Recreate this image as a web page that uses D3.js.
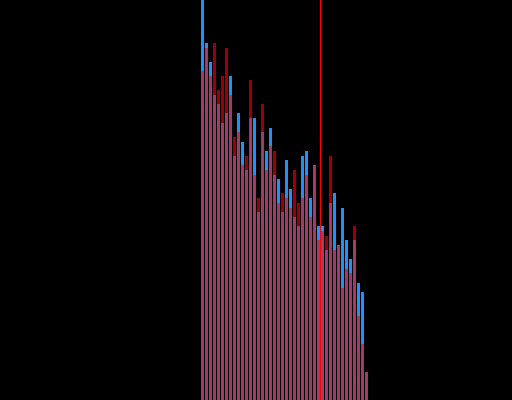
<!DOCTYPE html>
<html>
<head>
<meta charset="utf-8">
<script src="https://cdn.jsdelivr.net/npm/d3@7"></script>
<style>
  html, body { margin: 0; padding: 0; background: #000; }
  svg { display: block; }
</style>
</head>
<body>
<script>
// Bin indices (categories)
const bins = d3.range(42);
// Series A (blue) counts per bin
const seriesBlue = [400,357,338,305,296,277,287,324,244,287,258,230,282,282,188,268,249,272,225,221,188,240,211,183,174,244,249,202,235,174,174,150,197,207,155,192,160,141,160,117,108,28];
// Series B (dark red) counts per bin
const seriesRed = [329,352,324,357,310,324,352,305,263,268,235,244,320,225,202,296,230,254,249,197,207,202,192,230,197,202,225,183,235,160,169,164,244,150,155,112,131,127,174,84,56,28];
// Marker position (in bin units)
const markerValue = 29.875;

const W = 512, H = 400;
const svg = d3.select("body").append("svg").attr("width", W).attr("height", H)
  .style("background", "#000");

const x = d3.scaleBand().domain(bins).range([200.5, 368.5])
  .paddingInner(0.25).paddingOuter(0.125);
const xLin = d3.scaleLinear().domain([0, bins.length]).range([201, 369]);
const y = d3.scaleLinear().domain([0, 400]).range([H, 0]);

const g = svg.append("g").attr("shape-rendering", "crispEdges");

function drawBars(vals, color) {
  g.append("g").selectAll("rect").data(bins).join("rect")
    .attr("x", i => x(i))
    .attr("width", x.bandwidth())
    .attr("y", i => y(vals[i]))
    .attr("height", i => y(0) - y(vals[i]))
    .attr("fill", color);
}
drawBars(seriesBlue, "#1e90ff");
drawBars(seriesRed, "#9e0000");
drawBars(bins.map(i => Math.min(seriesBlue[i], seriesRed[i])), "#a13b6c");

svg.append("line")
  .attr("x1", xLin(markerValue)).attr("x2", xLin(markerValue))
  .attr("y1", 0).attr("y2", H)
  .attr("stroke", "#ff0000").attr("stroke-width", 1)
  .attr("shape-rendering", "crispEdges");
</script>
</body>
</html>
